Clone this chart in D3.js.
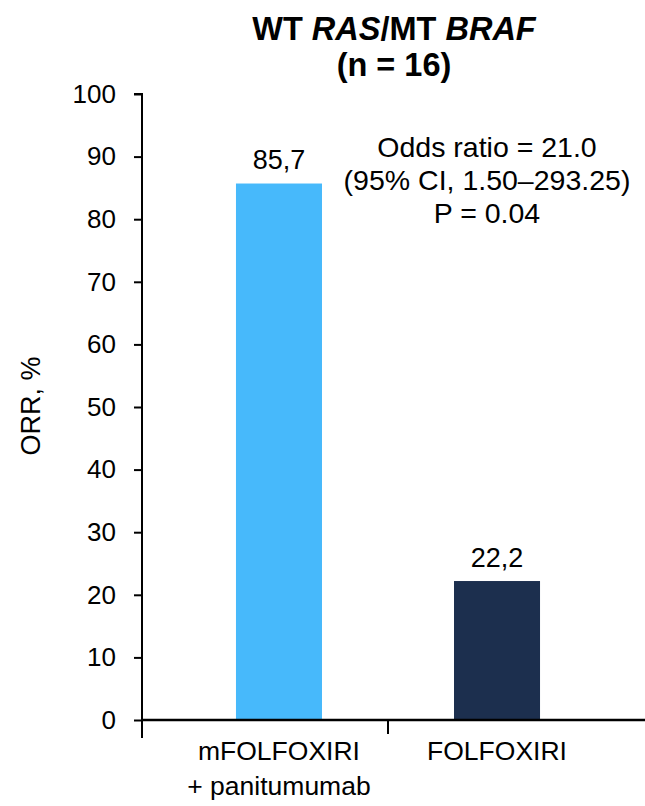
<!DOCTYPE html>
<html><head><meta charset="utf-8">
<script src="https://cdn.jsdelivr.net/npm/d3@7"></script>
<style>body{margin:0;background:#fff}svg{display:block}text{font-family:"Liberation Sans",Arial,sans-serif;fill:#000}</style>
</head><body><div id="chart"></div>
<script>
const categories = ["mFOLFOXIRI|+ panitumumab", "FOLFOXIRI"];
const values = [85.7, 22.2];
const valueLabels = ["85,7", "22,2"];
const colors = ["#47b9fb", "#1c2f4e"];
const yTicks = [0,10,20,30,40,50,60,70,80,90,100];
const annotation = ["Odds ratio = 21.0", "(95% CI, 1.50\u2013293.25)", "P = 0.04"];

const W = 645, H = 806;
const svg = d3.select("#chart").append("svg").attr("width", W).attr("height", H);

const y = d3.scaleLinear().domain([0, 100]).range([720, 94]);
const x = d3.scaleBand().domain(categories).range([142, 634]).paddingInner(0.6055).paddingOuter(0.431);

// bars
svg.selectAll("rect.bar").data(values).join("rect")
  .attr("x", (d,i) => x(categories[i])).attr("width", x.bandwidth())
  .attr("y", d => y(d)).attr("height", d => y(0) - y(d))
  .attr("fill", (d,i) => colors[i]);

// value labels
svg.selectAll("text.vl").data(values).join("text")
  .attr("x", (d,i) => x(categories[i]) + x.bandwidth()/2)
  .attr("y", d => y(d) - 14.5)
  .attr("text-anchor", "middle").attr("font-size", 27)
  .text((d,i) => valueLabels[i]);

// y axis
const yAxis = d3.axisLeft(y).tickValues(yTicks).tickSize(8).tickPadding(18).tickFormat(d3.format("d"));
const gy = svg.append("g").attr("transform", "translate(142,0)").call(yAxis);
gy.select(".domain").attr("d", `M-8,${y(100)}H0V${y(0)+18}`).attr("stroke", "#000").attr("stroke-width", 2);
gy.selectAll(".tick line").attr("stroke", "#000").attr("stroke-width", 2);
gy.selectAll(".tick text").attr("font-size", 26).attr("font-family", "Liberation Sans, Arial, sans-serif").attr("fill", "#111");

// x axis
svg.append("line").attr("x1", 141).attr("x2", W).attr("y1", y(0)).attr("y2", y(0)).attr("stroke", "#000").attr("stroke-width", 2.5);
const mid = (x(categories[0]) + x.bandwidth() + x(categories[1])) / 2;
svg.append("line").attr("x1", mid).attr("x2", mid).attr("y1", y(0)).attr("y2", y(0) + 14).attr("stroke", "#000").attr("stroke-width", 2);

// x labels
categories.forEach(c => {
  const lines = c.split("|");
  const cx = x(c) + x.bandwidth()/2;
  const t = svg.append("text").attr("text-anchor", "middle").attr("font-size", 26.5)
    .attr("x", cx).attr("y", 760);
  lines.forEach((l, i) => t.append("tspan").attr("x", cx).attr("dy", i ? 35 : 0).text(l));
});

// y title
svg.append("text").attr("transform", "translate(40,406) rotate(-90)").attr("text-anchor", "middle")
  .attr("font-size", 27).text("ORR, %");

// title
const t1 = svg.append("text").attr("x", 394).attr("y", 40).attr("text-anchor", "middle")
  .attr("font-size", 32.5).attr("font-weight", "bold");
t1.append("tspan").text("WT ");
t1.append("tspan").attr("font-style", "italic").text("RAS");
t1.append("tspan").text("/MT ");
t1.append("tspan").attr("font-style", "italic").text("BRAF");
svg.append("text").attr("x", 394).attr("y", 76).attr("text-anchor", "middle")
  .attr("font-size", 32.5).attr("font-weight", "bold").text("(n = 16)");

// annotation
annotation.forEach((a, i) => {
  svg.append("text").attr("x", 487).attr("y", 157 + i * 33).attr("text-anchor", "middle")
    .attr("font-size", 28.5).text(a);
});
</script></body></html>
